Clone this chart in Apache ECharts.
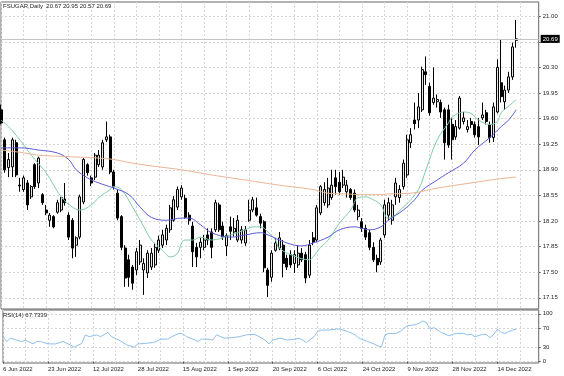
<!DOCTYPE html>
<html>
<head>
<meta charset="utf-8">
<script src="https://cdn.jsdelivr.net/npm/echarts@6/dist/echarts.min.js"></script>
<style>
html, body { margin: 0; padding: 0; background: #fff; }
#chart { width: 564px; height: 376px; }
</style>
</head>
<body>
<div id="chart"></div>
<script>
var symbol = 'FSUGAR,Daily';

var dates = [
    '6 Jun 2022', '7 Jun 2022', '8 Jun 2022', '9 Jun 2022', '10 Jun 2022', '13 Jun 2022', '14 Jun 2022', '15 Jun 2022', '16 Jun 2022', '17 Jun 2022',
    '21 Jun 2022', '22 Jun 2022', '23 Jun 2022', '24 Jun 2022', '27 Jun 2022', '28 Jun 2022', '29 Jun 2022', '30 Jun 2022', '1 Jul 2022', '5 Jul 2022',
    '6 Jul 2022', '7 Jul 2022', '8 Jul 2022', '11 Jul 2022', '12 Jul 2022', '13 Jul 2022', '14 Jul 2022', '15 Jul 2022', '18 Jul 2022', '19 Jul 2022',
    '20 Jul 2022', '21 Jul 2022', '22 Jul 2022', '25 Jul 2022', '26 Jul 2022', '27 Jul 2022', '28 Jul 2022', '29 Jul 2022', '1 Aug 2022', '2 Aug 2022',
    '3 Aug 2022', '4 Aug 2022', '5 Aug 2022', '8 Aug 2022', '9 Aug 2022', '10 Aug 2022', '11 Aug 2022', '12 Aug 2022', '15 Aug 2022', '16 Aug 2022',
    '17 Aug 2022', '18 Aug 2022', '19 Aug 2022', '22 Aug 2022', '23 Aug 2022', '24 Aug 2022', '25 Aug 2022', '26 Aug 2022', '30 Aug 2022', '31 Aug 2022',
    '1 Sep 2022', '2 Sep 2022', '6 Sep 2022', '7 Sep 2022', '8 Sep 2022', '9 Sep 2022', '12 Sep 2022', '13 Sep 2022', '14 Sep 2022', '15 Sep 2022',
    '16 Sep 2022', '19 Sep 2022', '20 Sep 2022', '21 Sep 2022', '22 Sep 2022', '23 Sep 2022', '26 Sep 2022', '27 Sep 2022', '28 Sep 2022', '29 Sep 2022',
    '30 Sep 2022', '3 Oct 2022', '4 Oct 2022', '5 Oct 2022', '6 Oct 2022', '7 Oct 2022', '10 Oct 2022', '11 Oct 2022', '12 Oct 2022', '13 Oct 2022',
    '14 Oct 2022', '17 Oct 2022', '18 Oct 2022', '19 Oct 2022', '20 Oct 2022', '21 Oct 2022', '24 Oct 2022', '25 Oct 2022', '26 Oct 2022', '27 Oct 2022',
    '28 Oct 2022', '31 Oct 2022', '1 Nov 2022', '2 Nov 2022', '3 Nov 2022', '4 Nov 2022', '7 Nov 2022', '8 Nov 2022', '9 Nov 2022', '10 Nov 2022',
    '11 Nov 2022', '14 Nov 2022', '15 Nov 2022', '16 Nov 2022', '17 Nov 2022', '18 Nov 2022', '21 Nov 2022', '22 Nov 2022', '23 Nov 2022', '25 Nov 2022',
    '28 Nov 2022', '29 Nov 2022', '30 Nov 2022', '1 Dec 2022', '2 Dec 2022', '5 Dec 2022', '6 Dec 2022', '7 Dec 2022', '8 Dec 2022', '9 Dec 2022',
    '12 Dec 2022', '13 Dec 2022', '14 Dec 2022', '15 Dec 2022', '16 Dec 2022', '19 Dec 2022', '20 Dec 2022', '21 Dec 2022'
];

var opens = [
    19.72, 19.31, 18.93, 18.94, 19.27, 18.69, 18.63, 18.72, 18.53, 18.97,
    18.72, 18.56, 18.35, 18.21, 18.26, 18.32, 18.35, 18.50, 18.28, 18.21,
    17.87, 17.98, 18.46, 18.97, 18.79, 18.80, 18.97, 18.94, 19.31, 19.35,
    18.87, 18.58, 18.26, 17.83, 17.67, 17.57, 17.53, 17.64, 17.53, 17.49,
    17.57, 17.60, 17.80, 17.87, 17.94, 18.08, 18.21, 18.39, 18.53, 18.51,
    18.28, 18.13, 17.84, 17.84, 17.84, 18.01, 18.05, 18.08, 18.42, 18.13,
    17.86, 18.12, 18.05, 17.94, 17.94, 17.90, 18.21, 18.35, 18.38, 18.26,
    18.19, 17.53, 17.43, 17.80, 17.83, 17.87, 17.69, 17.74, 17.62, 17.60,
    17.76, 17.74, 17.46, 17.97, 17.94, 18.31, 18.45, 18.42, 18.52, 18.79,
    18.73, 18.69, 18.60, 18.63, 18.58, 18.26, 18.19, 18.10, 18.04, 17.84,
    17.69, 17.64, 18.01, 18.28, 18.21, 18.53, 18.52, 18.67, 18.83, 19.27,
    19.58, 19.58, 19.72, 20.24, 20.04, 19.82, 19.83, 19.82, 19.72, 19.72,
    19.52, 19.35, 19.47, 19.56, 19.45, 19.56, 19.52, 19.49, 19.61, 19.68,
    19.52, 19.34, 19.69, 20.09, 19.83, 19.99, 20.17, 20.67
];
var closes = [
    19.54, 18.90, 19.04, 19.31, 18.83, 18.68, 18.79, 18.42, 18.67, 18.67,
    19.06, 18.45, 18.31, 18.28, 18.12, 18.45, 18.52, 18.45, 17.98, 17.83,
    17.97, 18.53, 19.04, 18.86, 18.72, 19.10, 19.10, 19.27, 19.35, 18.87,
    18.67, 18.24, 17.84, 17.42, 17.43, 17.35, 17.78, 17.87, 17.62, 17.76,
    17.76, 17.84, 17.94, 18.01, 18.10, 18.38, 18.49, 18.63, 18.65, 18.25,
    18.21, 17.78, 17.71, 17.91, 17.94, 17.94, 17.84, 18.45, 18.08, 17.98,
    18.00, 18.06, 18.10, 18.21, 18.08, 18.08, 18.35, 18.49, 18.28, 18.17,
    17.56, 17.32, 17.76, 17.90, 17.97, 17.62, 17.57, 17.60, 17.74, 17.76,
    17.67, 17.42, 17.87, 17.91, 18.38, 18.67, 18.63, 18.65, 18.69, 18.67,
    18.60, 18.80, 18.69, 18.52, 18.35, 18.35, 18.10, 17.98, 17.84, 17.67,
    17.60, 17.94, 18.42, 18.45, 18.42, 18.72, 18.63, 18.99, 19.31, 19.38,
    19.53, 19.76, 20.27, 20.20, 19.68, 19.88, 19.86, 19.69, 19.27, 19.24,
    19.31, 19.49, 19.88, 19.61, 19.49, 19.52, 19.38, 19.35, 19.65, 19.56,
    19.34, 19.76, 20.30, 19.90, 19.99, 20.17, 20.58, 20.69
];
var lows = [
    19.52, 18.86, 18.80, 18.80, 18.80, 18.60, 18.60, 18.35, 18.50, 18.64,
    18.65, 18.42, 18.28, 18.12, 18.10, 18.30, 18.32, 18.41, 17.94, 17.69,
    17.71, 17.95, 18.43, 18.82, 18.68, 18.76, 18.94, 18.90, 19.28, 18.84,
    18.63, 18.21, 17.80, 17.30, 17.30, 17.26, 17.46, 17.60, 17.19, 17.42,
    17.53, 17.56, 17.76, 17.83, 17.87, 18.04, 18.19, 18.35, 18.49, 18.23,
    18.15, 17.57, 17.57, 17.69, 17.80, 17.87, 17.69, 18.05, 18.05, 17.94,
    17.72, 17.94, 17.99, 17.91, 17.89, 17.86, 18.19, 18.32, 18.26, 18.10,
    17.50, 17.16, 17.37, 17.78, 17.80, 17.43, 17.53, 17.56, 17.49, 17.56,
    17.64, 17.35, 17.42, 17.87, 17.91, 18.28, 18.41, 18.38, 18.49, 18.56,
    18.56, 18.65, 18.52, 18.49, 18.32, 18.21, 18.05, 17.94, 17.80, 17.64,
    17.50, 17.60, 17.97, 18.21, 18.15, 18.42, 18.45, 18.63, 18.79, 19.20,
    19.45, 19.47, 19.69, 20.06, 19.64, 19.79, 19.75, 19.61, 19.04, 19.20,
    19.04, 19.31, 19.45, 19.52, 19.41, 19.47, 19.34, 19.24, 19.58, 19.52,
    19.27, 19.28, 19.67, 19.82, 19.72, 19.95, 20.13, 20.57
];
var highs = [
    19.79, 19.34, 19.13, 19.34, 19.31, 18.79, 18.82, 18.76, 18.69, 18.99,
    19.08, 18.58, 18.42, 18.31, 18.28, 18.49, 18.53, 18.72, 18.32, 18.24,
    17.99, 18.56, 19.06, 18.99, 18.82, 19.13, 19.17, 19.31, 19.56, 19.38,
    18.90, 18.63, 18.28, 17.87, 17.74, 17.60, 17.83, 17.94, 17.69, 17.80,
    17.83, 17.90, 18.00, 18.08, 18.15, 18.42, 18.54, 18.67, 18.69, 18.56,
    18.32, 18.19, 17.90, 17.97, 18.01, 18.10, 18.10, 18.49, 18.45, 18.19,
    18.03, 18.26, 18.24, 18.28, 18.13, 18.13, 18.49, 18.53, 18.52, 18.30,
    18.21, 17.56, 17.80, 17.97, 18.05, 17.94, 17.74, 17.80, 17.80, 17.87,
    17.83, 17.78, 17.94, 18.05, 18.42, 18.69, 18.73, 18.79, 18.90, 18.90,
    18.87, 18.90, 18.76, 18.65, 18.63, 18.42, 18.24, 18.15, 18.08, 17.91,
    17.74, 17.97, 18.49, 18.52, 18.49, 18.79, 18.69, 19.04, 19.38, 19.47,
    19.82, 19.95, 20.31, 20.45, 20.09, 20.30, 19.93, 19.86, 19.75, 19.79,
    19.61, 19.58, 19.91, 19.69, 19.58, 19.61, 19.56, 19.61, 19.82, 19.72,
    19.56, 19.82, 20.41, 20.68, 20.05, 20.24, 20.64, 20.95
];

// moving averages and rsi: [bar index, value]
var maFast = [
    [0, 19.58], [2, 19.49], [5, 19.31], [9, 19.04], [12, 18.86], [16, 18.53], [19, 18.39], [21, 18.35], [24, 18.42], [26, 18.52],
    [29, 18.63], [30, 18.67], [32, 18.63], [35, 18.39], [38, 18.12], [40, 17.94], [43, 17.80], [45, 17.71], [47, 17.76], [48, 17.90],
    [49, 17.94], [51, 17.94], [53, 17.98], [56, 17.94], [61, 18.01], [65, 18.08], [67, 18.12], [69, 18.12], [71, 18.05], [73, 17.94],
    [74, 17.83], [78, 17.72], [82, 17.67], [83, 17.71], [85, 17.84], [87, 17.94], [90, 18.17], [93, 18.35], [95, 18.52], [97, 18.53],
    [99, 18.49], [101, 18.42], [103, 18.24], [107, 18.39], [111, 18.63], [113, 18.90], [116, 19.31], [119, 19.54], [120, 19.62], [123, 19.69],
    [125, 19.67], [127, 19.58], [130, 19.52], [132, 19.56], [133, 19.68], [135, 19.77], [137, 19.86]
];
var maMid = [
    [0, 19.20], [5, 19.20], [10, 19.17], [15, 19.13], [18, 19.04], [20, 18.90], [23, 18.79], [26, 18.72], [30, 18.65], [34, 18.56],
    [37, 18.39], [40, 18.25], [44, 18.21], [48, 18.24], [50, 18.24], [53, 18.15], [56, 18.04], [61, 17.98], [65, 18.01], [69, 18.04],
    [71, 18.01], [74, 17.94], [78, 17.87], [80, 17.86], [83, 17.90], [87, 17.98], [90, 18.08], [94, 18.12], [96, 18.10], [98, 18.08],
    [101, 18.12], [103, 18.21], [107, 18.35], [110, 18.49], [112, 18.62], [116, 18.76], [119, 18.86], [123, 18.99], [126, 19.17], [130, 19.34],
    [133, 19.49], [135, 19.58], [137, 19.72]
];
var maSlow = [
    [0, 19.17], [5, 19.14], [10, 19.10], [18, 19.08], [26, 19.06], [30, 19.04], [35, 18.99], [42, 18.94], [48, 18.90], [56, 18.83],
    [65, 18.76], [74, 18.69], [83, 18.63], [87, 18.58], [92, 18.57], [96, 18.56], [101, 18.56], [103, 18.57], [109, 18.58], [116, 18.65],
    [125, 18.72], [133, 18.78], [137, 18.80]
];
var rsi = [
    [0, 52], [1, 42], [2, 49], [4, 44], [5, 42], [6, 45], [8, 37], [9, 42], [10, 42], [12, 37],
    [14, 37], [16, 42], [18, 35], [19, 30], [21, 38], [22, 56], [23, 52], [25, 56], [26, 52], [28, 61],
    [29, 52], [31, 45], [33, 35], [35, 30], [36, 37], [38, 38], [40, 40], [41, 42], [42, 47], [44, 47],
    [45, 52], [47, 59], [48, 58], [49, 52], [51, 46], [52, 42], [53, 47], [55, 47], [56, 45], [57, 56],
    [59, 49], [61, 50], [63, 52], [65, 56], [67, 57], [68, 54], [70, 45], [71, 37], [72, 45], [74, 49],
    [76, 45], [78, 47], [79, 49], [80, 45], [81, 40], [83, 52], [84, 63], [85, 66], [87, 66], [89, 68],
    [90, 68], [92, 63], [94, 56], [95, 49], [97, 43], [99, 37], [100, 33], [101, 31], [102, 56], [103, 59],
    [105, 59], [106, 63], [107, 70], [108, 75], [110, 77], [111, 80], [112, 85], [113, 82], [114, 68], [115, 71],
    [116, 66], [117, 61], [119, 54], [120, 57], [121, 59], [123, 59], [124, 56], [125, 57], [126, 52], [128, 57],
    [129, 57], [130, 50], [131, 57], [132, 68], [133, 61], [134, 59], [135, 63], [136, 66], [137, 67.7339]
];

var priceTicks = [17.15, 17.50, 17.85, 18.20, 18.55, 18.90, 19.25, 19.60, 19.95, 20.30, 20.65, 21.00];
var rsiTicks = [0, 30, 70, 100];

var chart = echarts.init(document.getElementById('chart'));
var last = dates.length - 1;
var candles = dates.map(function (d, i) {
    return [opens[i], closes[i], lows[i], highs[i]];
});
// empty room right of the last bar (chart shift)
var cats = dates.concat(['', '', '', '', '', '']);

var font = 'Liberation Sans';
var txt = '#1e1e1e';
var gridLine = { show: true, lineStyle: { color: '#d6d6d6', width: 1, type: [2, 2] } };
var vLine = {
    show: true,
    interval: function (i) { return i % 6 === 0; },
    lineStyle: { color: '#d6d6d6', width: 1, type: [2, 2] }
};
var labelEvery = function (i) { return i % 12 === 0 && i <= last; };

var option = {
    animation: false,
    backgroundColor: '#fff',
    title: [{
        text: symbol + '  ' + opens[last].toFixed(2) + ' ' + highs[last].toFixed(2) + ' ' +
            lows[last].toFixed(2) + ' ' + closes[last].toFixed(2),
        left: 3, top: 3, padding: 0,
        textStyle: { fontSize: 6, fontWeight: 'normal', color: txt, fontFamily: font }
    }, {
        text: 'RSI(14) ' + rsi[rsi.length - 1][1].toFixed(4),
        left: 3, top: 312, padding: 0,
        textStyle: { fontSize: 6, fontWeight: 'normal', color: txt, fontFamily: font }
    }],
    grid: [
        { left: 1, width: 537.7, top: 2, height: 307, show: true, borderColor: '#666', borderWidth: 1 },
        { left: 1, width: 537.7, top: 310, height: 53, show: true, borderColor: '#666', borderWidth: 1 }
    ],
    xAxis: [{
        type: 'category', gridIndex: 0, data: cats, boundaryGap: false,
        axisLine: { show: false }, axisTick: { show: false }, axisLabel: { show: false },
        splitLine: vLine
    }, {
        type: 'category', gridIndex: 1, data: cats, boundaryGap: false,
        axisLine: { show: false },
        axisTick: { show: true, interval: labelEvery, length: 2, lineStyle: { color: '#555' } },
        axisLabel: {
            show: true, interval: labelEvery, align: 'left', margin: 3,
            fontSize: 6, color: txt, fontFamily: font
        },
        splitLine: vLine
    }],
    yAxis: [{
        type: 'value', gridIndex: 0, position: 'right', min: 16.997, max: 21.194,
        axisLine: { show: false },
        axisTick: { show: true, customValues: priceTicks, length: 2, lineStyle: { color: '#555' } },
        axisLabel: {
            customValues: priceTicks, margin: 4, fontSize: 6, color: txt, fontFamily: font,
            formatter: function (v) { return v.toFixed(2); }
        },
        splitLine: gridLine
    }, {
        type: 'value', gridIndex: 1, position: 'right', min: -3, max: 108,
        axisLine: { show: false },
        axisTick: { show: true, customValues: rsiTicks, length: 2, lineStyle: { color: '#555' } },
        axisLabel: {
            customValues: rsiTicks, margin: 4, fontSize: 6, color: txt, fontFamily: font
        },
        splitLine: gridLine
    }],
    series: [{
        name: 'price',
        type: 'candlestick',
        xAxisIndex: 0, yAxisIndex: 0,
        data: candles,
        barWidth: 2.5,
        itemStyle: {
            color: '#e6e6e6', color0: '#000',
            borderColor: '#000', borderColor0: '#000', borderWidth: 1
        },
        markLine: {
            silent: true,
            symbol: ['none', 'none'],
            data: [{ yAxis: closes[last] }],
            lineStyle: { color: '#c4c4c4', type: 'solid', width: 1 },
            label: {
                position: 'end', distance: 2,
                formatter: closes[last].toFixed(2),
                backgroundColor: '#000', color: '#fff',
                fontSize: 6, fontFamily: font, padding: [1, 2, 1, 2]
            }
        }
    }, {
        name: 'ma fast', type: 'line', xAxisIndex: 0, yAxisIndex: 0,
        data: maFast, showSymbol: false, smooth: 0.4,
        lineStyle: { color: '#7fcca6', width: 1 }
    }, {
        name: 'ma mid', type: 'line', xAxisIndex: 0, yAxisIndex: 0,
        data: maMid, showSymbol: false, smooth: 0.4,
        lineStyle: { color: '#5b5bd6', width: 1 }
    }, {
        name: 'ma slow', type: 'line', xAxisIndex: 0, yAxisIndex: 0,
        data: maSlow, showSymbol: false, smooth: 0.4,
        lineStyle: { color: '#eab594', width: 1 }
    }, {
        name: 'rsi', type: 'line', xAxisIndex: 1, yAxisIndex: 1,
        data: rsi, showSymbol: false,
        lineStyle: { color: '#8fbfea', width: 1 }
    }]
};

chart.setOption(option);
</script>
</body>
</html>
